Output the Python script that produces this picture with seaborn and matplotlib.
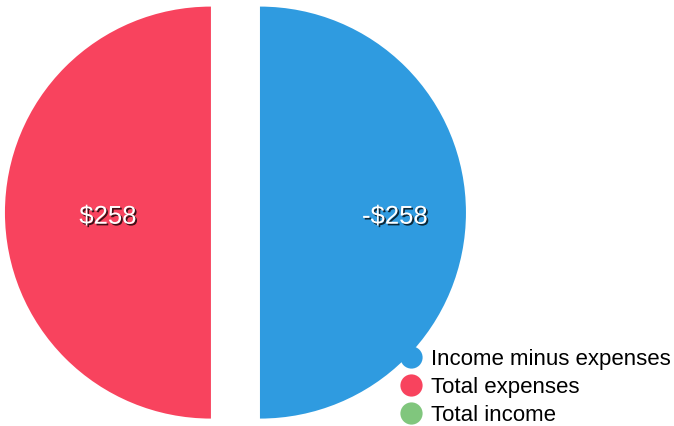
import matplotlib
matplotlib.use("Agg")
import matplotlib.pyplot as plt
import matplotlib.patheffects as pe
from matplotlib.lines import Line2D
import numpy as np
import seaborn as sns

categories = ["Income minus expenses", "Total expenses", "Total income"]
values = [-258, 258, 0]
colors = ["#2F9BE0", "#F8435E", "#80C67D"]
label_dist = [0.655, 0.50, 0.5]

sns.set_theme(style="white")
plt.rcParams['font.family'] = ['Liberation Sans', 'DejaVu Sans']
plt.rcParams['text.color'] = 'black'

fig = plt.figure(figsize=(6.74, 4.26), dpi=100)
ax = fig.add_axes([0, 0, 1, 1])

idx = [i for i, v in enumerate(values) if v != 0]
sizes = [abs(values[i]) for i in idx]
cols = [colors[i] for i in idx]
wedges, _ = ax.pie(sizes, colors=cols, startangle=90, counterclock=False,
                   explode=[0.119] * len(sizes), radius=1.0,
                   wedgeprops=dict(linewidth=0))

for w, i in zip(wedges, idx):
    ang = np.deg2rad((w.theta1 + w.theta2) / 2)
    cx, cy = w.center
    d = label_dist[i]
    v = values[i]
    txt = f"-${abs(v)}" if v < 0 else f"${v}"
    ax.text(cx + d * np.cos(ang), cy + d * np.sin(ang) - 0.02, txt,
            ha='center', va='center', color='white', fontsize=18.5,
            path_effects=[pe.SimplePatchShadow(offset=(1.2, -1.2), shadow_rgbFace='black', alpha=0.75),
                          pe.Normal()])

ax.set_xlim(-1.143, 2.129)
ax.set_ylim(-1.036, 1.032)
ax.set_aspect('auto')
ax.axis('off')

handles = [Line2D([], [], marker='o', linestyle='', markersize=16,
                  markerfacecolor=c, markeredgewidth=0) for c in colors]
fig.legend(handles, categories, loc='lower left', bbox_to_anchor=(0.593, 0.0),
           frameon=False, fontsize=16, handlelength=1.0, handletextpad=0.4,
           labelspacing=0.32, borderpad=0, borderaxespad=0, labelcolor='black')

fig.savefig("out.png", dpi=100)
